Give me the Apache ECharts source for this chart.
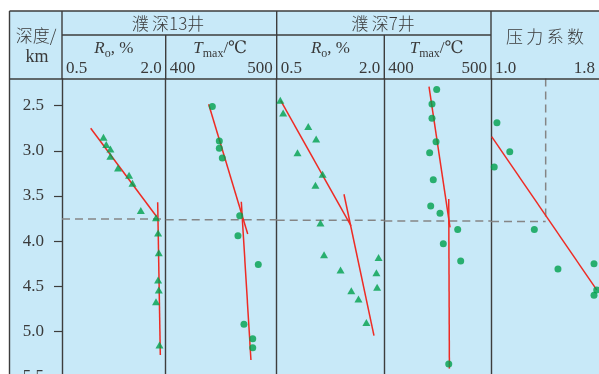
<!DOCTYPE html>
<html><head><meta charset="utf-8">
<script src="https://cdn.jsdelivr.net/npm/echarts@6/dist/echarts.min.js"></script>
<style>html,body{margin:0;padding:0;background:#fff}#c{width:599px;height:374px}</style>
</head><body><div id="c"></div>
<script>
// ---------------- data ----------------
var depthTicks = [2.5, 3.0, 3.5, 4.0, 4.5, 5.0, 5.5];
var depthRange = [2.2, 5.6];

// 濮深13井 Ro
var ro13Value = [1.10, 1.14, 1.20, 1.20, 1.31, 1.47, 1.52, 1.64, 1.86, 1.89, 1.90, 1.89, 1.90, 1.86, 1.91];
var ro13Depth = [2.85, 2.93, 2.98, 3.06, 3.19, 3.27, 3.36, 3.66, 3.74, 3.91, 4.13, 4.43, 4.54, 4.67, 5.15];
var ro13TrendA = [[0.915, 2.75], [1.87, 3.73]];
var ro13TrendB = [[1.884, 3.57], [1.922, 5.26]];

// 濮深13井 Tmax
var t13Value = [442.0, 448.3, 448.3, 451.0, 466.7, 465.1, 483.4, 470.5, 478.4, 478.4];
var t13Depth = [2.51, 2.89, 2.97, 3.08, 3.72, 3.94, 4.26, 4.92, 5.08, 5.18];
var t13TrendA = [[438.7, 2.484], [473.9, 3.921]];
var t13TrendB = [[468.1, 3.563], [476.8, 5.316]];

// 濮深7井 Ro
var ro7Value = [0.55, 0.59, 0.94, 1.05, 0.79, 1.14, 1.04, 1.11, 1.16, 1.39, 1.92, 1.89, 1.90, 1.54, 1.64, 1.75];
var ro7Depth = [2.44, 2.58, 2.73, 2.87, 3.02, 3.26, 3.38, 3.80, 4.15, 4.32, 4.18, 4.35, 4.51, 4.55, 4.64, 4.90];
var ro7TrendA = [[0.556, 2.445], [1.536, 3.832]];
var ro7TrendB = [[1.438, 3.481], [1.856, 5.047]];

// 濮深7井 Tmax
var t7Value = [449.1, 444.7, 444.7, 448.5, 442.5, 445.9, 443.5, 452.2, 468.8, 455.3, 471.6, 460.4];
var t7Depth = [2.32, 2.48, 2.64, 2.90, 3.02, 3.32, 3.61, 3.69, 3.87, 4.03, 4.22, 5.36];
var t7TrendA = [[441.9, 2.29], [461.6, 3.847]];
var t7TrendB = [[460.4, 3.533], [461.0, 5.412]];

// 压力系数
var pcValue = [1.044, 1.139, 1.024, 1.321, 1.496, 1.763, 1.783, 1.763];
var pcDepth = [2.69, 3.01, 3.18, 3.87, 4.31, 4.25, 4.54, 4.60];
var pcTrend = [[1.005, 2.843], [1.783, 4.54]];
var pcRefValue = 1.405;

// dashed reference depth (slightly tilted across panels, as drawn)
var refDepth = [3.755, 3.762, 3.770, 3.778, 3.782];

// x-axis ranges / labels
var xMins = [0.5, 400, 0.5, 400, 1.0];
var xMaxs = [2.0, 500, 2.0, 500, 1.8];
var xLabelDigits = [1, 0, 1, 0, 1];

// ---------------- layout ----------------
var edges = [62, 165.7, 276.7, 384.3, 491, 599];
var plotTop = 78.6, plotH = 307;
var frameLeft = 9.5, frameTop = 11, rowMid = 35, headBottom = 79, H = 374, W = 599;

var GREEN = '#00a04c', RED = '#ee2b24', LINE = '#3d3d3d', BG = '#c8e9f8', DASH = '#858585', TXT = '#3a3a3a';
var SERIF = '"Times New Roman", "Liberation Serif", "DejaVu Serif", serif';
var CJK = '"Noto Sans CJK SC", sans-serif';

function pairs(xs, ys) { return xs.map(function (x, i) { return [x, ys[i]]; }); }

var grids = [], xAxes = [], yAxes = [], series = [];
for (var i = 0; i < 5; i++) {
  grids.push({ left: edges[i], width: edges[i + 1] - edges[i], top: plotTop, height: plotH, containLabel: false, outerBoundsMode: 'none' });
  (function (k) {
    xAxes.push({
      gridIndex: k, type: 'value', position: 'top', min: xMins[k], max: xMaxs[k],
      axisLine: { show: false }, axisTick: { show: false }, splitLine: { show: false },
      axisLabel: {
        customValues: [xMins[k], xMaxs[k]],
        alignMinLabel: 'left', alignMaxLabel: 'right',
        formatter: function (v) { return v.toFixed(xLabelDigits[k]); },
        fontFamily: SERIF, fontSize: 17, color: TXT, margin: 2, padding: [0, 4, 0, 4]
      }
    });
  })(i);
  yAxes.push({
    gridIndex: i, type: 'value', inverse: true, min: depthRange[0], max: depthRange[1],
    axisLine: { show: true, lineStyle: { color: LINE, width: 1.4 } },
    axisTick: { show: i === 0, customValues: depthTicks, length: 8, inside: false, lineStyle: { color: LINE, width: 1.2 } },
    axisLabel: {
      show: i === 0, customValues: depthTicks, margin: 18,
      formatter: function (v) { return v.toFixed(1); },
      fontFamily: SERIF, fontSize: 17, color: TXT
    },
    splitLine: { show: false }
  });
}

function scatter(k, xs, ys, sym) {
  series.push({
    type: 'scatter', xAxisIndex: k, yAxisIndex: k, data: pairs(xs, ys),
    symbol: sym, symbolSize: sym === 'triangle' ? [8, 7] : 7,
    itemStyle: { color: GREEN }, z: 5, silent: true
  });
}
function trend(k, d) {
  series.push({
    type: 'line', xAxisIndex: k, yAxisIndex: k, data: d, symbol: 'none',
    lineStyle: { color: RED, width: 1.5 }, z: 4, silent: true, clip: false
  });
}
function dashed(k, d) {
  series.push({
    type: 'line', xAxisIndex: k, yAxisIndex: k, data: d, symbol: 'none',
    lineStyle: { color: DASH, width: 1.5, type: [8, 5] }, z: 3, silent: true
  });
}

dashed(0, [[xMins[0], refDepth[0]], [xMaxs[0], refDepth[0]]]);
dashed(1, [[xMins[1], refDepth[1]], [xMaxs[1], refDepth[1]]]);
dashed(2, [[xMins[2], refDepth[2]], [xMaxs[2], refDepth[2]]]);
dashed(3, [[xMins[3], refDepth[3]], [xMaxs[3], refDepth[3]]]);
dashed(4, [[xMins[4], refDepth[4]], [pcRefValue, refDepth[4]]]);
dashed(4, [[pcRefValue, depthRange[0]], [pcRefValue, refDepth[4]]]);

trend(0, ro13TrendA); trend(0, ro13TrendB); scatter(0, ro13Value, ro13Depth, 'triangle');
trend(1, t13TrendA); trend(1, t13TrendB); scatter(1, t13Value, t13Depth, 'circle');
trend(2, ro7TrendA); trend(2, ro7TrendB); scatter(2, ro7Value, ro7Depth, 'triangle');
trend(3, t7TrendA); trend(3, t7TrendB); scatter(3, t7Value, t7Depth, 'circle');
trend(4, pcTrend); scatter(4, pcValue, pcDepth, 'circle');

// ---------------- header / frame ----------------
function ln(x1, y1, x2, y2) {
  return { type: 'line', z: 100, silent: true, shape: { x1: x1, y1: y1, x2: x2, y2: y2 }, style: { stroke: LINE, lineWidth: 1.4 } };
}
function txt(x, y, text, font, rich) {
  var st = { text: text, x: x, y: y, align: 'center', verticalAlign: 'middle', font: font, fill: TXT };
  if (rich) st.rich = rich;
  return { type: 'text', z: 100, silent: true, style: st };
}
var roRich = {
  r: { fontFamily: SERIF, fontSize: 17, fontStyle: 'italic', fill: TXT },
  s: { fontFamily: SERIF, fontSize: 12, fill: TXT, padding: [9, 0, 0, 0] },
  n: { fontFamily: SERIF, fontSize: 17, fill: TXT }
};
function mid(a, b) { return (a + b) / 2; }

var graphics = [
  { type: 'rect', z: -10, silent: true, shape: { x: frameLeft, y: frameTop, width: W - frameLeft, height: H - frameTop }, style: { fill: BG } },
  ln(frameLeft, frameTop, W, frameTop),
  ln(frameLeft, frameTop, frameLeft, H),
  ln(edges[0], rowMid, edges[4], rowMid),
  ln(frameLeft, headBottom, W, headBottom),
  ln(edges[0], frameTop, edges[0], headBottom),
  ln(edges[1], rowMid, edges[1], headBottom),
  ln(edges[2], frameTop, edges[2], headBottom),
  ln(edges[3], rowMid, edges[3], headBottom),
  ln(edges[4], frameTop, edges[4], headBottom),
  txt(36, 36, '深度/', '300 17px ' + CJK),
  txt(37, 57, 'km', '18px ' + SERIF),
  txt(168, 24, '濮\u2009深13井', '300 17px ' + CJK),
  txt(383, 24, '濮\u2009深7井', '300 17px ' + CJK),
  txt(545, 37, '压\u2009力\u2009系\u2009数', '300 17px ' + CJK),
  txt(mid(edges[0], edges[1]), 49, '{r|R}{s|o}{n|, %}', '17px ' + SERIF, roRich),
  txt(mid(edges[1], edges[2]) - 1, 49, '{r|T}{s|max}{n|/℃}', '17px ' + SERIF, roRich),
  txt(mid(edges[2], edges[3]), 49, '{r|R}{s|o}{n|, %}', '17px ' + SERIF, roRich),
  txt(mid(edges[3], edges[4]) - 1, 49, '{r|T}{s|max}{n|/℃}', '17px ' + SERIF, roRich)
];

var chart = echarts.init(document.getElementById('c'), null, { renderer: 'canvas' });
chart.setOption({
  animation: false,
  backgroundColor: '#fff',
  grid: grids, xAxis: xAxes, yAxis: yAxes, series: series,
  graphic: { elements: graphics }
});
</script></body></html>
